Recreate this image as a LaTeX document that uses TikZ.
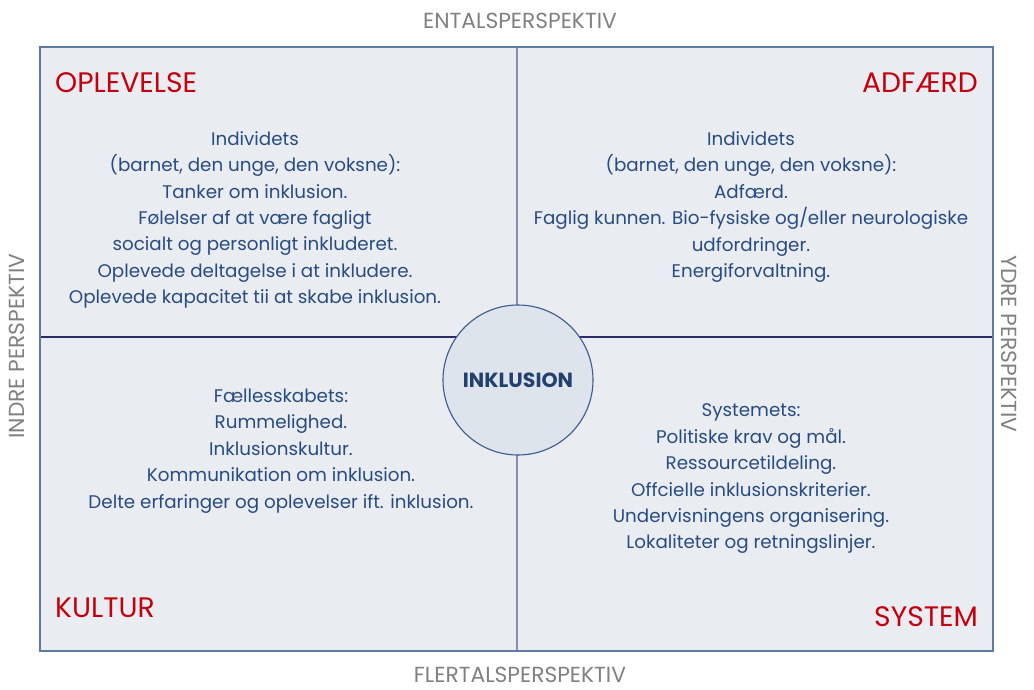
\documentclass[tikz,border=0pt]{standalone}
\usepackage{fontspec}
\setmainfont{Poppins}
\definecolor{txtblue}{HTML}{284C82}
\definecolor{redc}{HTML}{C4000C}
\definecolor{greyc}{HTML}{808080}
\definecolor{panel}{HTML}{E9ECF1}
\definecolor{circfill}{HTML}{DEE4EC}
\definecolor{framec}{HTML}{5B7BA5}
\definecolor{vline}{HTML}{8A8AB8}
\definecolor{hline}{HTML}{2A2C6A}
\definecolor{circline}{HTML}{3A5A90}
\begin{document}
\begin{tikzpicture}[x=1pt,y=-1pt,
  body/.style={text=txtblue, font=\fontsize{18.3}{26.4}\selectfont, align=center, inner sep=0pt},
  redlab/.style={text=redc, font=\fontsize{28.2}{32}\selectfont, inner sep=0pt},
  greylab/.style={text=greyc, font=\fontsize{21.8}{25}\selectfont, inner sep=0pt}]
\useasboundingbox (0,0) rectangle (1034,689);
\fill[white] (0,0) rectangle (1034,689);
% frame
\coordinate (nw) at (40,47);
\coordinate (se) at (993,651);
\coordinate (top) at (517,47);
\coordinate (bot) at (517,651);
\coordinate (lft) at (40,337);
\coordinate (rgt) at (993,337);
\fill[panel] (nw) rectangle (se);
\draw[vline, line width=1.2pt] (top) -- (bot);
\draw[hline, line width=1.2pt] (lft) -- (rgt);
\draw[framec, line width=1.5pt] (nw) rectangle (se);
% circle
\node[circle, draw=circline, line width=1.1pt, fill=circfill, minimum size=150pt, inner sep=0pt,
      text=txtblue!85!black, font=\bfseries\fontsize{20.5}{24}\selectfont] (c) at (518,380) {INKLUSION};
% quadrant labels
\node[redlab, anchor=west] (opl) at (55,83) {OPLEVELSE};
\node[redlab, anchor=east] (adf) at (978,83) {ADFÆRD};
\node[redlab, anchor=west] (kul) at (55,608) {KULTUR};
\node[redlab, anchor=east] (sys) at (978,617) {SYSTEM};
% outer labels
\node[greylab] (ent) at (520,21) {ENTALSPERSPEKTIV};
\node[greylab] (fle) at (520,675) {FLERTALSPERSPEKTIV};
\node[greylab, rotate=90] (ind) at (17,346) {INDRE PERSPEKTIV};
\node[greylab, rotate=-90] (ydr) at (1009,344) {YDRE PERSPEKTIV};
% body texts
\node[body] (tl) at (255,220) {Individets\\(barnet, den unge, den voksne):\\Tanker om inklusion.\\Følelser af at være fagligt\\socialt og personligt inkluderet.\\Oplevede deltagelse i at inkludere.\\Oplevede kapacitet tii at skabe inklusion.};
\node[body] (tr) at (751,207) {Individets\\(barnet, den unge, den voksne):\\Adfærd.\\Faglig kunnen. Bio-fysiske og/eller neurologiske\\udfordringer.\\Energiforvaltning.};
\node[body] (bl) at (281,451) {Fællesskabets:\\Rummelighed.\\Inklusionskultur.\\Kommunikation om inklusion.\\Delte erfaringer og oplevelser ift. inklusion.};
\node[body] (br) at (751,479) {Systemets:\\Politiske krav og mål.\\Ressourcetildeling.\\Offcielle inklusionskriterier.\\Undervisningens organisering.\\Lokaliteter og retningslinjer.};
\end{tikzpicture}
\end{document}
